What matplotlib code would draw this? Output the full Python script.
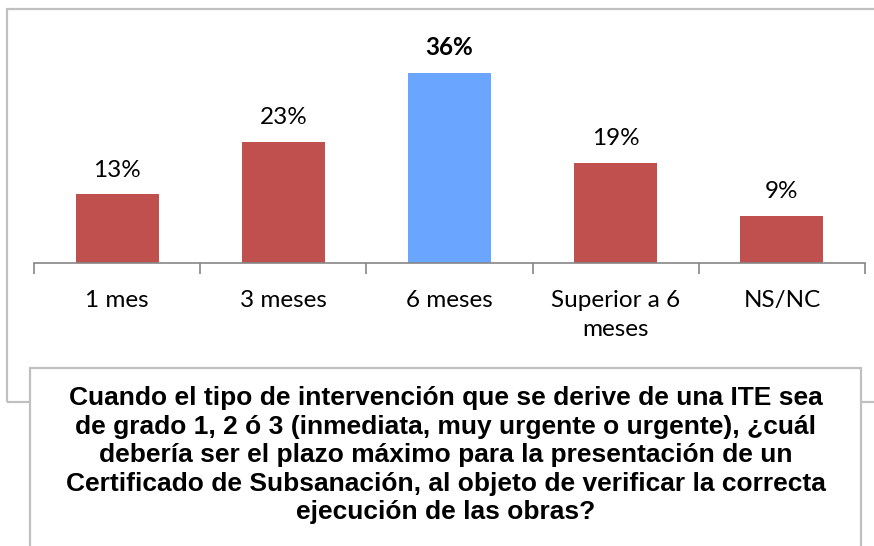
import matplotlib
import matplotlib.pyplot as plt
from matplotlib.patches import Rectangle

categories = ["1 mes", "3 meses", "6 meses", "Superior a 6\nmeses", "NS/NC"]
values = [13, 23, 36, 19, 9]
highlight = 2
title = ("Cuando el tipo de intervención que se derive de una ITE sea\n"
         "de grado 1, 2 ó 3 (inmediata, muy urgente o urgente), ¿cuál\n"
         "debería ser el plazo máximo para la presentación de un\n"
         "Certificado de Subsanación, al objeto de verificar la correcta\n"
         "ejecución de las obras?")

W, H = 874, 546
fig = plt.figure(figsize=(W / 100, H / 100), dpi=100)

# outer chart border
fig.patches.append(Rectangle((7 / W, 1 - 402 / H), 1.0, (402 - 9) / H,
                             transform=fig.transFigure, fill=False,
                             edgecolor="#c0c0c0", linewidth=1.6, zorder=0))

ax = fig.add_axes([34 / W, 1 - 263 / H, (865 - 34) / W, (263 - 52) / H])
x = list(range(len(values)))
colors = ["#6aa5ff" if i == highlight else "#c0504d" for i in x]
ax.bar(x, values, width=0.5, color=colors)
ax.set_xlim(-0.5, len(values) - 0.5)
ax.set_ylim(0, 40)

for i, v in enumerate(values):
    ax.text(i, v + 2.6, f"{v}%", ha="center", va="bottom", fontsize=17.5,
            family="Lato", fontweight="bold" if i == highlight else "normal")

for s in ["top", "right", "left"]:
    ax.spines[s].set_visible(False)
ax.spines["bottom"].set_color("#868686")
ax.spines["bottom"].set_linewidth(1.2)
ax.set_yticks([])
ax.set_xticks([i - 0.5 for i in range(len(values) + 1)], minor=False)
ax.set_xticklabels([])
ax.tick_params(axis="x", which="major", length=8, color="#868686", width=1.2)
for i, c in enumerate(categories):
    ax.text(i, -5.2, c, ha="center", va="top", fontsize=17.5, family="Lato",
            linespacing=1.45)

# question box
fig.patches.append(Rectangle((30 / W, -0.1), (861 - 30) / W, 0.1 + (546 - 368) / H,
                             transform=fig.transFigure, facecolor="white",
                             edgecolor="#c0c0c0", linewidth=1.6, zorder=2))
fig.text(445.5 / W, 1 - 386 / H, title, ha="center", va="top", fontsize=19,
         family="Liberation Sans", fontweight="bold", linespacing=1.24, zorder=3)

fig.savefig("out.png", dpi=100)
